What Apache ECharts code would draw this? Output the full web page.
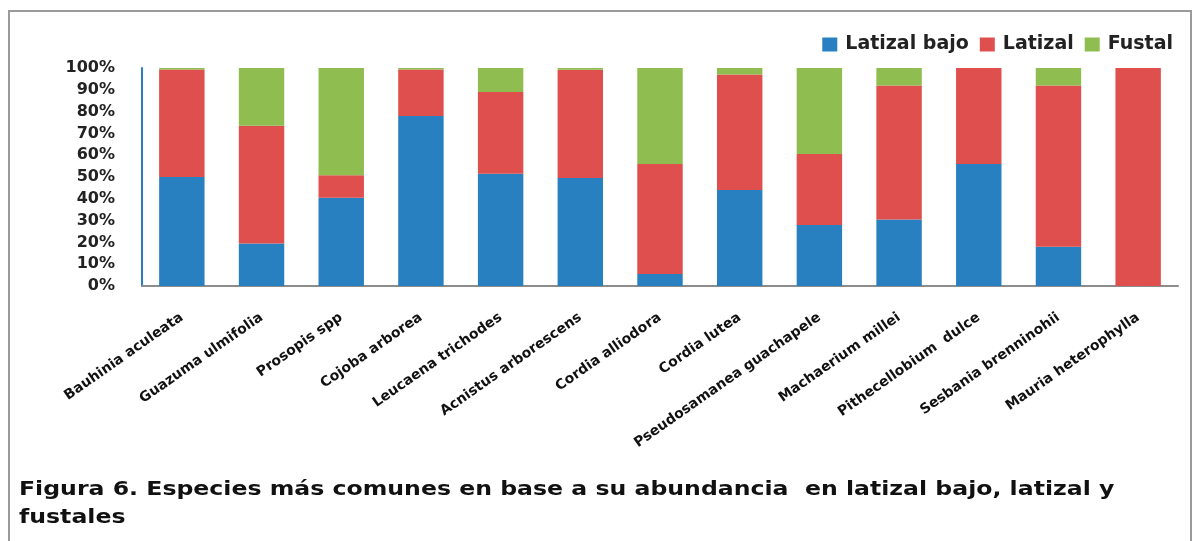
<!DOCTYPE html>
<html>
<head>
<meta charset="utf-8">
<script src="https://cdn.jsdelivr.net/npm/echarts@6/dist/echarts.min.js"></script>
<style>
html,body{margin:0;padding:0;background:#fff;}
#chart{width:1204px;height:541px;}
</style>
</head>
<body>
<div id="chart"></div>
<script>
const categories = ["Bauhinia aculeata","Guazuma ulmifolia","Prosopis spp","Cojoba arborea","Leucaena trichodes","Acnistus arborescens","Cordia alliodora","Cordia lutea","Pseudosamanea guachapele","Machaerium millei","Pithecellobium  dulce","Sesbania brenninohii","Mauria heterophylla"];
const latizalBajo = [50, 19.5, 40.5, 78, 51.5, 49.5, 5.5, 44, 28, 30.5, 56, 18, 0];
const latizal     = [49.3, 54, 10.3, 21.3, 37.5, 49.7, 50.5, 53, 32.5, 61.5, 44, 74, 100];
const fustal      = [0.7, 26.5, 49.2, 0.7, 11, 0.8, 44, 3, 39.5, 8, 0, 8, 0];
const yTicks = {min: 0, max: 100, interval: 10};
const caption = "Figura 6. Especies más comunes en base a su abundancia  en latizal bajo, latizal y\nfustales";

const FONT = '"DejaVu Sans"';
const colors = ["#2980C1", "#DE4F4E", "#8FBD50"];
const chart = echarts.init(document.getElementById('chart'));
const mk = (name, data, c) => ({
  name, type: 'bar', stack: 'total', data,
  barCategoryGap: '43%',
  itemStyle: {color: c}
});
chart.setOption({
  animation: false,
  textStyle: {fontFamily: FONT},
  graphic: [
    {type: 'rect', shape: {x: 9, y: 11, width: 1182, height: 560},
     style: {fill: 'none', stroke: '#9a9a9a', lineWidth: 2}, silent: true},
    {type: 'text', x: 19, y: 476, scaleX: 1.18, originX: 0, originY: 0,
     style: {text: caption, font: 'bold 20px ' + FONT, fill: '#111', lineHeight: 28}}
  ],
  legend: {
    right: 26, top: 30,
    itemWidth: 15, itemHeight: 14, itemGap: 11,
    icon: 'rect',
    textStyle: {fontSize: 19, fontWeight: 'bold', color: '#222', fontFamily: FONT, padding: [0, 0, 0, 3]},
    data: ['Latizal bajo', 'Latizal', 'Fustal']
  },
  grid: {left: 142, right: 26, top: 68, bottom: 255, containLabel: false},
  xAxis: {
    type: 'category', data: categories,
    axisLine: {lineStyle: {color: '#8c8c8c', width: 2}},
    axisTick: {show: false},
    axisLabel: {interval: 0, rotate: 35, margin: 30, fontSize: 14, fontWeight: 'bold', color: '#111', fontFamily: FONT}
  },
  yAxis: {
    type: 'value', min: yTicks.min, max: yTicks.max, interval: yTicks.interval,
    axisLine: {show: true, lineStyle: {color: '#2980C1', width: 2}},
    axisTick: {show: false},
    splitLine: {show: false},
    axisLabel: {formatter: v => v + '%', margin: 27, fontSize: 16, fontWeight: 'bold', color: '#222', fontFamily: FONT}
  },
  series: [
    mk('Latizal bajo', latizalBajo, colors[0]),
    mk('Latizal', latizal, colors[1]),
    mk('Fustal', fustal, colors[2])
  ]
});
</script>
</body>
</html>
